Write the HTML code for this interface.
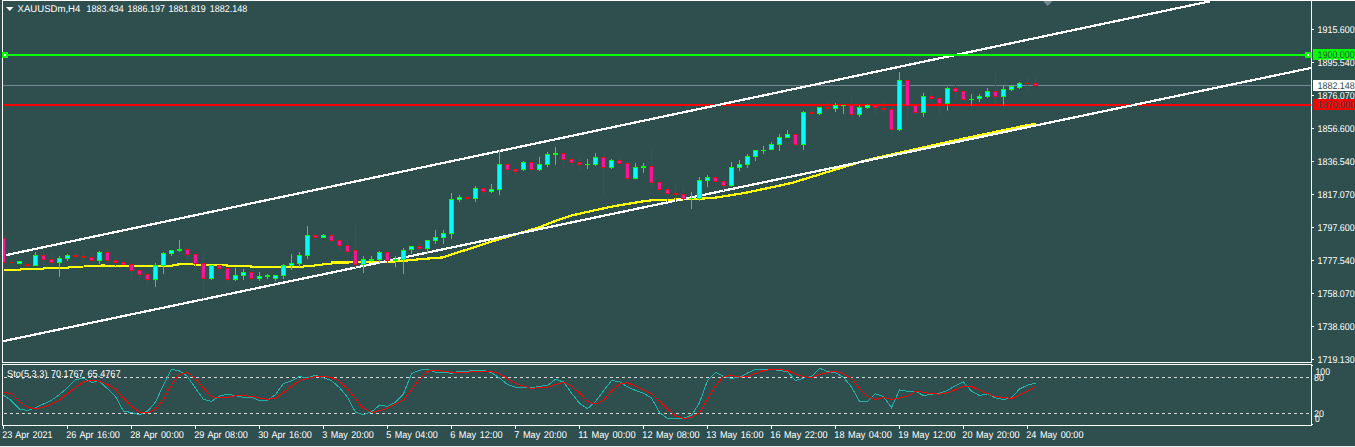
<!DOCTYPE html>
<html lang="en"><head><meta charset="utf-8"><title>XAUUSDm,H4</title>
<style>html,body{margin:0;padding:0;background:#2F4F4F;overflow:hidden}svg{display:block}text{font-family:"Liberation Sans",sans-serif;font-size:9.8px;text-rendering:geometricPrecision;fill:#fff}.d{fill:#2F4F4F}.w{word-spacing:1px}</style></head><body>
<svg width="1355" height="447" viewBox="0 0 1355 447">
<defs><clipPath id="c"><rect x="3" y="1" width="1308" height="361"/></clipPath><clipPath id="s"><rect x="3" y="365" width="1308" height="60"/></clipPath></defs>
<rect width="1355" height="447" fill="#2F4F4F"/>
<rect x="0" y="446" width="1355" height="1" fill="#F0F0EE"/>
<g shape-rendering="crispEdges">
<rect x="2" y="0" width="1353" height="1" fill="#fff"/>
<rect x="2" y="0" width="1" height="363" fill="#fff"/>
<rect x="2" y="362" width="1310" height="1" fill="#fff"/>
<rect x="2" y="364" width="1310" height="1" fill="#fff"/>
<rect x="2" y="364" width="1" height="62" fill="#fff"/>
<rect x="2" y="425" width="1310" height="1" fill="#fff"/>
<rect x="1311" y="0" width="1" height="363" fill="#fff"/>
<rect x="1311" y="364" width="1" height="62" fill="#fff"/>
<rect x="1312" y="29" width="2" height="1" fill="#fff"/>
<rect x="1312" y="62" width="2" height="1" fill="#fff"/>
<rect x="1312" y="95" width="2" height="1" fill="#fff"/>
<rect x="1312" y="128" width="2" height="1" fill="#fff"/>
<rect x="1312" y="161" width="2" height="1" fill="#fff"/>
<rect x="1312" y="194" width="2" height="1" fill="#fff"/>
<rect x="1312" y="227" width="2" height="1" fill="#fff"/>
<rect x="1312" y="260" width="2" height="1" fill="#fff"/>
<rect x="1312" y="293" width="2" height="1" fill="#fff"/>
<rect x="1312" y="326" width="2" height="1" fill="#fff"/>
<rect x="1312" y="359" width="2" height="1" fill="#fff"/>
<rect x="1312" y="365" width="1" height="1" fill="#fff"/><rect x="1312" y="424" width="1" height="1" fill="#fff"/>
<rect x="3" y="426" width="1" height="3" fill="#fff"/>
<rect x="67" y="426" width="1" height="3" fill="#fff"/>
<rect x="131" y="426" width="1" height="3" fill="#fff"/>
<rect x="195" y="426" width="1" height="3" fill="#fff"/>
<rect x="259" y="426" width="1" height="3" fill="#fff"/>
<rect x="323" y="426" width="1" height="3" fill="#fff"/>
<rect x="387" y="426" width="1" height="3" fill="#fff"/>
<rect x="451" y="426" width="1" height="3" fill="#fff"/>
<rect x="515" y="426" width="1" height="3" fill="#fff"/>
<rect x="579" y="426" width="1" height="3" fill="#fff"/>
<rect x="643" y="426" width="1" height="3" fill="#fff"/>
<rect x="707" y="426" width="1" height="3" fill="#fff"/>
<rect x="771" y="426" width="1" height="3" fill="#fff"/>
<rect x="835" y="426" width="1" height="3" fill="#fff"/>
<rect x="899" y="426" width="1" height="3" fill="#fff"/>
<rect x="963" y="426" width="1" height="3" fill="#fff"/>
<rect x="1027" y="426" width="1" height="3" fill="#fff"/>
<g clip-path="url(#c)">
<polyline fill="none" stroke="#FFFF00" stroke-width="2.25" points="3.0,270.0 20.0,270.0 21.0,269.0 43.0,269.0 44.0,268.0 68.0,268.0 69.0,267.0 83.0,267.0 84.0,266.3 100.0,266.3 101.0,265.6 128.0,265.8 170.0,266.0 175.0,265.0 181.0,264.0 194.0,264.0 196.0,265.0 226.0,265.0 228.0,266.0 250.0,266.0 252.0,267.0 303.0,267.0 304.0,266.0 314.0,266.0 315.6,264.7 322.0,264.7 323.0,263.8 331.0,263.8 332.0,262.6 348.0,262.6 349.0,261.8 391.0,261.6 402.0,261.0 420.0,259.2 443.0,257.4 455.6,253.1 468.0,249.3 486.8,243.0 504.3,237.7 520.4,233.0 540.5,226.9 554.0,221.5 571.4,215.5 594.2,210.4 614.4,206.1 640.0,201.8 651.8,200.2 668.0,199.8 696.0,199.0 715.0,197.7 744.0,193.1 771.6,187.3 792.0,182.9 821.0,174.0 848.0,165.8 862.0,161.4 880.0,157.0 900.0,152.6 930.0,146.0 955.0,140.4 1000.0,130.9 1027.0,125.3 1036.0,123.7"/>
<rect x="3" y="85" width="1308" height="1" fill="#778899"/>
<rect x="3" y="104" width="1308" height="2" fill="#FF0000"/>
<line x1="3" y1="341.20" x2="1311" y2="67.96" stroke="#fff" stroke-width="2.25"/>
<line x1="3" y1="255.73" x2="1210" y2="1.30" stroke="#fff" stroke-width="2.25"/>
<rect x="3" y="54" width="1308" height="2" fill="#00FF00"/>
<rect x="1305" y="52" width="6" height="6" fill="#00FF00"/><rect x="1307" y="54" width="2" height="2" fill="#fff"/>
</g>
</g>
<polygon points="1043,1 1052.5,1 1047.7,6" fill="#778899"/>
<rect x="2" y="52" width="6" height="6" fill="#00FF00" shape-rendering="crispEdges"/><rect x="4" y="54" width="2" height="2" fill="#fff" shape-rendering="crispEdges"/>
<g shape-rendering="crispEdges"><g clip-path="url(#c)">
<rect x="3" y="230" width="1" height="45" fill="#FF0000"/>
<rect x="1" y="238" width="5" height="25" fill="#FF0000"/>
<rect x="2" y="239" width="3" height="23" fill="#FF1493"/>
<rect x="11" y="258" width="1" height="7" fill="#FF0000"/>
<rect x="9" y="262" width="5" height="1" fill="#FF0000"/>
<rect x="19" y="261" width="1" height="3" fill="#00FF00"/>
<rect x="17" y="261" width="5" height="3" fill="#00FF00"/>
<rect x="18" y="262" width="3" height="1" fill="#00FFFF"/>
<rect x="27" y="263" width="1" height="5" fill="#FF0000"/>
<rect x="25" y="264" width="5" height="2" fill="#FF0000"/>
<rect x="35" y="252" width="1" height="14" fill="#00FF00"/>
<rect x="33" y="255" width="5" height="11" fill="#00FF00"/>
<rect x="34" y="256" width="3" height="9" fill="#00FFFF"/>
<rect x="43" y="251" width="1" height="15" fill="#FF0000"/>
<rect x="41" y="255" width="5" height="5" fill="#FF0000"/>
<rect x="42" y="256" width="3" height="3" fill="#FF1493"/>
<rect x="51" y="253" width="1" height="13" fill="#FF0000"/>
<rect x="49" y="259" width="5" height="4" fill="#FF0000"/>
<rect x="50" y="260" width="3" height="2" fill="#FF1493"/>
<rect x="59" y="256" width="1" height="21" fill="#00FF00"/>
<rect x="57" y="258" width="5" height="5" fill="#00FF00"/>
<rect x="58" y="259" width="3" height="3" fill="#00FFFF"/>
<rect x="67" y="254" width="1" height="7" fill="#00FF00"/>
<rect x="65" y="255" width="5" height="4" fill="#00FF00"/>
<rect x="66" y="256" width="3" height="2" fill="#00FFFF"/>
<rect x="75" y="252" width="1" height="5" fill="#FF0000"/>
<rect x="73" y="255" width="5" height="2" fill="#FF0000"/>
<rect x="83" y="250" width="1" height="18" fill="#FF0000"/>
<rect x="81" y="256" width="5" height="2" fill="#FF0000"/>
<rect x="91" y="251" width="1" height="10" fill="#FF0000"/>
<rect x="89" y="257" width="5" height="4" fill="#FF0000"/>
<rect x="90" y="258" width="3" height="2" fill="#FF1493"/>
<rect x="99" y="251" width="1" height="13" fill="#00FF00"/>
<rect x="97" y="252" width="5" height="9" fill="#00FF00"/>
<rect x="98" y="253" width="3" height="7" fill="#00FFFF"/>
<rect x="107" y="247" width="1" height="14" fill="#FF0000"/>
<rect x="105" y="252" width="5" height="9" fill="#FF0000"/>
<rect x="106" y="253" width="3" height="7" fill="#FF1493"/>
<rect x="115" y="257" width="1" height="9" fill="#FF0000"/>
<rect x="113" y="260" width="5" height="3" fill="#FF0000"/>
<rect x="114" y="261" width="3" height="1" fill="#FF1493"/>
<rect x="123" y="260" width="1" height="5" fill="#FF0000"/>
<rect x="121" y="262" width="5" height="3" fill="#FF0000"/>
<rect x="122" y="263" width="3" height="1" fill="#FF1493"/>
<rect x="131" y="264" width="1" height="16" fill="#FF0000"/>
<rect x="129" y="264" width="5" height="7" fill="#FF0000"/>
<rect x="130" y="265" width="3" height="5" fill="#FF1493"/>
<rect x="139" y="270" width="1" height="11" fill="#FF0000"/>
<rect x="137" y="270" width="5" height="5" fill="#FF0000"/>
<rect x="138" y="271" width="3" height="3" fill="#FF1493"/>
<rect x="147" y="272" width="1" height="14" fill="#FF0000"/>
<rect x="145" y="274" width="5" height="6" fill="#FF0000"/>
<rect x="146" y="275" width="3" height="4" fill="#FF1493"/>
<rect x="155" y="263" width="1" height="24" fill="#00FF00"/>
<rect x="153" y="265" width="5" height="15" fill="#00FF00"/>
<rect x="154" y="266" width="3" height="13" fill="#00FFFF"/>
<rect x="163" y="252" width="1" height="22" fill="#00FF00"/>
<rect x="161" y="253" width="5" height="13" fill="#00FF00"/>
<rect x="162" y="254" width="3" height="11" fill="#00FFFF"/>
<rect x="171" y="250" width="1" height="6" fill="#00FF00"/>
<rect x="169" y="250" width="5" height="4" fill="#00FF00"/>
<rect x="170" y="251" width="3" height="2" fill="#00FFFF"/>
<rect x="179" y="240" width="1" height="12" fill="#00FF00"/>
<rect x="177" y="249" width="5" height="2" fill="#00FF00"/>
<rect x="187" y="247" width="1" height="15" fill="#FF0000"/>
<rect x="185" y="249" width="5" height="6" fill="#FF0000"/>
<rect x="186" y="250" width="3" height="4" fill="#FF1493"/>
<rect x="195" y="254" width="1" height="17" fill="#FF0000"/>
<rect x="193" y="254" width="5" height="10" fill="#FF0000"/>
<rect x="194" y="255" width="3" height="8" fill="#FF1493"/>
<rect x="203" y="254" width="1" height="45" fill="#FF0000"/>
<rect x="201" y="263" width="5" height="16" fill="#FF0000"/>
<rect x="202" y="264" width="3" height="14" fill="#FF1493"/>
<rect x="211" y="265" width="1" height="15" fill="#00FF00"/>
<rect x="209" y="265" width="5" height="14" fill="#00FF00"/>
<rect x="210" y="266" width="3" height="12" fill="#00FFFF"/>
<rect x="219" y="265" width="1" height="8" fill="#FF0000"/>
<rect x="217" y="265" width="5" height="4" fill="#FF0000"/>
<rect x="218" y="266" width="3" height="2" fill="#FF1493"/>
<rect x="227" y="268" width="1" height="14" fill="#FF0000"/>
<rect x="225" y="268" width="5" height="12" fill="#FF0000"/>
<rect x="226" y="269" width="3" height="10" fill="#FF1493"/>
<rect x="235" y="268" width="1" height="13" fill="#00FF00"/>
<rect x="233" y="275" width="5" height="5" fill="#00FF00"/>
<rect x="234" y="276" width="3" height="3" fill="#00FFFF"/>
<rect x="243" y="269" width="1" height="11" fill="#00FF00"/>
<rect x="241" y="272" width="5" height="4" fill="#00FF00"/>
<rect x="242" y="273" width="3" height="2" fill="#00FFFF"/>
<rect x="251" y="269" width="1" height="15" fill="#FF0000"/>
<rect x="249" y="272" width="5" height="7" fill="#FF0000"/>
<rect x="250" y="273" width="3" height="5" fill="#FF1493"/>
<rect x="259" y="272" width="1" height="9" fill="#00FF00"/>
<rect x="257" y="276" width="5" height="3" fill="#00FF00"/>
<rect x="258" y="277" width="3" height="1" fill="#00FFFF"/>
<rect x="267" y="274" width="1" height="5" fill="#00FF00"/>
<rect x="265" y="275" width="5" height="2" fill="#00FF00"/>
<rect x="275" y="275" width="1" height="6" fill="#00FF00"/>
<rect x="273" y="275" width="5" height="4" fill="#00FF00"/>
<rect x="274" y="276" width="3" height="2" fill="#00FFFF"/>
<rect x="283" y="264" width="1" height="15" fill="#00FF00"/>
<rect x="281" y="265" width="5" height="11" fill="#00FF00"/>
<rect x="282" y="266" width="3" height="9" fill="#00FFFF"/>
<rect x="291" y="254" width="1" height="16" fill="#00FF00"/>
<rect x="289" y="263" width="5" height="3" fill="#00FF00"/>
<rect x="290" y="264" width="3" height="1" fill="#00FFFF"/>
<rect x="299" y="252" width="1" height="15" fill="#00FF00"/>
<rect x="297" y="255" width="5" height="9" fill="#00FF00"/>
<rect x="298" y="256" width="3" height="7" fill="#00FFFF"/>
<rect x="307" y="226" width="1" height="33" fill="#00FF00"/>
<rect x="305" y="235" width="5" height="21" fill="#00FF00"/>
<rect x="306" y="236" width="3" height="19" fill="#00FFFF"/>
<rect x="315" y="232" width="1" height="8" fill="#FF0000"/>
<rect x="313" y="235" width="5" height="3" fill="#FF0000"/>
<rect x="314" y="236" width="3" height="1" fill="#FF1493"/>
<rect x="323" y="234" width="1" height="4" fill="#00FF00"/>
<rect x="321" y="235" width="5" height="3" fill="#00FF00"/>
<rect x="322" y="236" width="3" height="1" fill="#00FFFF"/>
<rect x="331" y="234" width="1" height="9" fill="#FF0000"/>
<rect x="329" y="235" width="5" height="6" fill="#FF0000"/>
<rect x="330" y="236" width="3" height="4" fill="#FF1493"/>
<rect x="339" y="240" width="1" height="11" fill="#FF0000"/>
<rect x="337" y="240" width="5" height="6" fill="#FF0000"/>
<rect x="338" y="241" width="3" height="4" fill="#FF1493"/>
<rect x="347" y="239" width="1" height="17" fill="#FF0000"/>
<rect x="345" y="245" width="5" height="7" fill="#FF0000"/>
<rect x="346" y="246" width="3" height="5" fill="#FF1493"/>
<rect x="355" y="225" width="1" height="43" fill="#FF0000"/>
<rect x="353" y="250" width="5" height="15" fill="#FF0000"/>
<rect x="354" y="251" width="3" height="13" fill="#FF1493"/>
<rect x="363" y="256" width="1" height="17" fill="#00FF00"/>
<rect x="361" y="259" width="5" height="6" fill="#00FF00"/>
<rect x="362" y="260" width="3" height="4" fill="#00FFFF"/>
<rect x="371" y="256" width="1" height="6" fill="#00FF00"/>
<rect x="369" y="259" width="5" height="2" fill="#00FF00"/>
<rect x="379" y="251" width="1" height="12" fill="#00FF00"/>
<rect x="377" y="252" width="5" height="8" fill="#00FF00"/>
<rect x="378" y="253" width="3" height="6" fill="#00FFFF"/>
<rect x="387" y="251" width="1" height="14" fill="#FF0000"/>
<rect x="385" y="252" width="5" height="9" fill="#FF0000"/>
<rect x="386" y="253" width="3" height="7" fill="#FF1493"/>
<rect x="395" y="256" width="1" height="11" fill="#00FF00"/>
<rect x="393" y="259" width="5" height="2" fill="#00FF00"/>
<rect x="403" y="248" width="1" height="26" fill="#00FF00"/>
<rect x="401" y="250" width="5" height="10" fill="#00FF00"/>
<rect x="402" y="251" width="3" height="8" fill="#00FFFF"/>
<rect x="411" y="246" width="1" height="8" fill="#00FF00"/>
<rect x="409" y="246" width="5" height="4" fill="#00FF00"/>
<rect x="410" y="247" width="3" height="2" fill="#00FFFF"/>
<rect x="419" y="243" width="1" height="7" fill="#FF0000"/>
<rect x="417" y="246" width="5" height="3" fill="#FF0000"/>
<rect x="418" y="247" width="3" height="1" fill="#FF1493"/>
<rect x="427" y="240" width="1" height="14" fill="#00FF00"/>
<rect x="425" y="240" width="5" height="9" fill="#00FF00"/>
<rect x="426" y="241" width="3" height="7" fill="#00FFFF"/>
<rect x="435" y="230" width="1" height="14" fill="#00FF00"/>
<rect x="433" y="237" width="5" height="4" fill="#00FF00"/>
<rect x="434" y="238" width="3" height="2" fill="#00FFFF"/>
<rect x="443" y="230" width="1" height="14" fill="#00FF00"/>
<rect x="441" y="233" width="5" height="5" fill="#00FF00"/>
<rect x="442" y="234" width="3" height="3" fill="#00FFFF"/>
<rect x="451" y="193" width="1" height="46" fill="#00FF00"/>
<rect x="449" y="199" width="5" height="35" fill="#00FF00"/>
<rect x="450" y="200" width="3" height="33" fill="#00FFFF"/>
<rect x="459" y="195" width="1" height="7" fill="#00FF00"/>
<rect x="457" y="197" width="5" height="3" fill="#00FF00"/>
<rect x="458" y="198" width="3" height="1" fill="#00FFFF"/>
<rect x="467" y="196" width="1" height="5" fill="#FF0000"/>
<rect x="465" y="197" width="5" height="2" fill="#FF0000"/>
<rect x="475" y="186" width="1" height="16" fill="#00FF00"/>
<rect x="473" y="188" width="5" height="11" fill="#00FF00"/>
<rect x="474" y="189" width="3" height="9" fill="#00FFFF"/>
<rect x="483" y="187" width="1" height="8" fill="#FF0000"/>
<rect x="481" y="188" width="5" height="4" fill="#FF0000"/>
<rect x="482" y="189" width="3" height="2" fill="#FF1493"/>
<rect x="491" y="184" width="1" height="9" fill="#00FF00"/>
<rect x="489" y="189" width="5" height="3" fill="#00FF00"/>
<rect x="490" y="190" width="3" height="1" fill="#00FFFF"/>
<rect x="499" y="150" width="1" height="45" fill="#00FF00"/>
<rect x="497" y="164" width="5" height="26" fill="#00FF00"/>
<rect x="498" y="165" width="3" height="24" fill="#00FFFF"/>
<rect x="507" y="164" width="1" height="12" fill="#FF0000"/>
<rect x="505" y="164" width="5" height="6" fill="#FF0000"/>
<rect x="506" y="165" width="3" height="4" fill="#FF1493"/>
<rect x="515" y="169" width="1" height="5" fill="#FF0000"/>
<rect x="513" y="169" width="5" height="3" fill="#FF0000"/>
<rect x="514" y="170" width="3" height="1" fill="#FF1493"/>
<rect x="523" y="161" width="1" height="10" fill="#00FF00"/>
<rect x="521" y="162" width="5" height="8" fill="#00FF00"/>
<rect x="522" y="163" width="3" height="6" fill="#00FFFF"/>
<rect x="531" y="162" width="1" height="11" fill="#FF0000"/>
<rect x="529" y="162" width="5" height="8" fill="#FF0000"/>
<rect x="530" y="163" width="3" height="6" fill="#FF1493"/>
<rect x="539" y="157" width="1" height="14" fill="#00FF00"/>
<rect x="537" y="164" width="5" height="6" fill="#00FF00"/>
<rect x="538" y="165" width="3" height="4" fill="#00FFFF"/>
<rect x="547" y="152" width="1" height="15" fill="#00FF00"/>
<rect x="545" y="154" width="5" height="11" fill="#00FF00"/>
<rect x="546" y="155" width="3" height="9" fill="#00FFFF"/>
<rect x="555" y="147" width="1" height="18" fill="#00FF00"/>
<rect x="553" y="153" width="5" height="2" fill="#00FF00"/>
<rect x="563" y="153" width="1" height="15" fill="#FF0000"/>
<rect x="561" y="153" width="5" height="7" fill="#FF0000"/>
<rect x="562" y="154" width="3" height="5" fill="#FF1493"/>
<rect x="571" y="158" width="1" height="8" fill="#FF0000"/>
<rect x="569" y="159" width="5" height="4" fill="#FF0000"/>
<rect x="570" y="160" width="3" height="2" fill="#FF1493"/>
<rect x="579" y="158" width="1" height="13" fill="#FF0000"/>
<rect x="577" y="162" width="5" height="3" fill="#FF0000"/>
<rect x="578" y="163" width="3" height="1" fill="#FF1493"/>
<rect x="587" y="159" width="1" height="10" fill="#00FF00"/>
<rect x="585" y="164" width="5" height="1" fill="#00FF00"/>
<rect x="595" y="153" width="1" height="13" fill="#00FF00"/>
<rect x="593" y="157" width="5" height="8" fill="#00FF00"/>
<rect x="594" y="158" width="3" height="6" fill="#00FFFF"/>
<rect x="603" y="153" width="1" height="41" fill="#FF0000"/>
<rect x="601" y="157" width="5" height="11" fill="#FF0000"/>
<rect x="602" y="158" width="3" height="9" fill="#FF1493"/>
<rect x="611" y="159" width="1" height="10" fill="#00FF00"/>
<rect x="609" y="160" width="5" height="8" fill="#00FF00"/>
<rect x="610" y="161" width="3" height="6" fill="#00FFFF"/>
<rect x="619" y="158" width="1" height="6" fill="#FF0000"/>
<rect x="617" y="160" width="5" height="4" fill="#FF0000"/>
<rect x="618" y="161" width="3" height="2" fill="#FF1493"/>
<rect x="627" y="161" width="1" height="19" fill="#FF0000"/>
<rect x="625" y="163" width="5" height="16" fill="#FF0000"/>
<rect x="626" y="164" width="3" height="14" fill="#FF1493"/>
<rect x="635" y="163" width="1" height="16" fill="#00FF00"/>
<rect x="633" y="167" width="5" height="12" fill="#00FF00"/>
<rect x="634" y="168" width="3" height="10" fill="#00FFFF"/>
<rect x="643" y="163" width="1" height="10" fill="#00FF00"/>
<rect x="641" y="166" width="5" height="2" fill="#00FF00"/>
<rect x="651" y="150" width="1" height="39" fill="#FF0000"/>
<rect x="649" y="166" width="5" height="17" fill="#FF0000"/>
<rect x="650" y="167" width="3" height="15" fill="#FF1493"/>
<rect x="659" y="181" width="1" height="11" fill="#FF0000"/>
<rect x="657" y="182" width="5" height="8" fill="#FF0000"/>
<rect x="658" y="183" width="3" height="6" fill="#FF1493"/>
<rect x="667" y="188" width="1" height="14" fill="#FF0000"/>
<rect x="665" y="189" width="5" height="5" fill="#FF0000"/>
<rect x="666" y="190" width="3" height="3" fill="#FF1493"/>
<rect x="675" y="184" width="1" height="18" fill="#FF0000"/>
<rect x="673" y="193" width="5" height="2" fill="#FF0000"/>
<rect x="683" y="186" width="1" height="15" fill="#FF0000"/>
<rect x="681" y="194" width="5" height="5" fill="#FF0000"/>
<rect x="682" y="195" width="3" height="3" fill="#FF1493"/>
<rect x="691" y="192" width="1" height="17" fill="#00FF00"/>
<rect x="689" y="198" width="5" height="1" fill="#00FF00"/>
<rect x="699" y="177" width="1" height="24" fill="#00FF00"/>
<rect x="697" y="180" width="5" height="19" fill="#00FF00"/>
<rect x="698" y="181" width="3" height="17" fill="#00FFFF"/>
<rect x="707" y="175" width="1" height="12" fill="#00FF00"/>
<rect x="705" y="177" width="5" height="4" fill="#00FF00"/>
<rect x="706" y="178" width="3" height="2" fill="#00FFFF"/>
<rect x="715" y="175" width="1" height="7" fill="#FF0000"/>
<rect x="713" y="177" width="5" height="5" fill="#FF0000"/>
<rect x="714" y="178" width="3" height="3" fill="#FF1493"/>
<rect x="723" y="178" width="1" height="13" fill="#FF0000"/>
<rect x="721" y="181" width="5" height="5" fill="#FF0000"/>
<rect x="722" y="182" width="3" height="3" fill="#FF1493"/>
<rect x="731" y="162" width="1" height="25" fill="#00FF00"/>
<rect x="729" y="167" width="5" height="19" fill="#00FF00"/>
<rect x="730" y="168" width="3" height="17" fill="#00FFFF"/>
<rect x="739" y="160" width="1" height="11" fill="#00FF00"/>
<rect x="737" y="164" width="5" height="4" fill="#00FF00"/>
<rect x="738" y="165" width="3" height="2" fill="#00FFFF"/>
<rect x="747" y="154" width="1" height="14" fill="#00FF00"/>
<rect x="745" y="156" width="5" height="9" fill="#00FF00"/>
<rect x="746" y="157" width="3" height="7" fill="#00FFFF"/>
<rect x="755" y="150" width="1" height="11" fill="#00FF00"/>
<rect x="753" y="150" width="5" height="7" fill="#00FF00"/>
<rect x="754" y="151" width="3" height="5" fill="#00FFFF"/>
<rect x="763" y="146" width="1" height="8" fill="#00FF00"/>
<rect x="761" y="150" width="5" height="1" fill="#00FF00"/>
<rect x="771" y="142" width="1" height="8" fill="#00FF00"/>
<rect x="769" y="144" width="5" height="6" fill="#00FF00"/>
<rect x="770" y="145" width="3" height="4" fill="#00FFFF"/>
<rect x="779" y="134" width="1" height="17" fill="#00FF00"/>
<rect x="777" y="137" width="5" height="8" fill="#00FF00"/>
<rect x="778" y="138" width="3" height="6" fill="#00FFFF"/>
<rect x="787" y="130" width="1" height="8" fill="#00FF00"/>
<rect x="785" y="134" width="5" height="4" fill="#00FF00"/>
<rect x="786" y="135" width="3" height="2" fill="#00FFFF"/>
<rect x="795" y="133" width="1" height="13" fill="#FF0000"/>
<rect x="793" y="134" width="5" height="11" fill="#FF0000"/>
<rect x="794" y="135" width="3" height="9" fill="#FF1493"/>
<rect x="803" y="111" width="1" height="39" fill="#00FF00"/>
<rect x="801" y="112" width="5" height="33" fill="#00FF00"/>
<rect x="802" y="113" width="3" height="31" fill="#00FFFF"/>
<rect x="811" y="108" width="1" height="7" fill="#FF0000"/>
<rect x="809" y="112" width="5" height="2" fill="#FF0000"/>
<rect x="819" y="107" width="1" height="8" fill="#00FF00"/>
<rect x="817" y="107" width="5" height="7" fill="#00FF00"/>
<rect x="818" y="108" width="3" height="5" fill="#00FFFF"/>
<rect x="827" y="99" width="1" height="12" fill="#FF0000"/>
<rect x="825" y="107" width="5" height="2" fill="#FF0000"/>
<rect x="835" y="103" width="1" height="9" fill="#00FF00"/>
<rect x="833" y="105" width="5" height="4" fill="#00FF00"/>
<rect x="834" y="106" width="3" height="2" fill="#00FFFF"/>
<rect x="843" y="105" width="1" height="9" fill="#00FF00"/>
<rect x="841" y="105" width="5" height="1" fill="#00FF00"/>
<rect x="851" y="97" width="1" height="21" fill="#FF0000"/>
<rect x="849" y="105" width="5" height="10" fill="#FF0000"/>
<rect x="850" y="106" width="3" height="8" fill="#FF1493"/>
<rect x="859" y="105" width="1" height="12" fill="#00FF00"/>
<rect x="857" y="107" width="5" height="8" fill="#00FF00"/>
<rect x="858" y="108" width="3" height="6" fill="#00FFFF"/>
<rect x="867" y="104" width="1" height="5" fill="#00FF00"/>
<rect x="865" y="105" width="5" height="3" fill="#00FF00"/>
<rect x="866" y="106" width="3" height="1" fill="#00FFFF"/>
<rect x="875" y="103" width="1" height="13" fill="#FF0000"/>
<rect x="873" y="105" width="5" height="3" fill="#FF0000"/>
<rect x="874" y="106" width="3" height="1" fill="#FF1493"/>
<rect x="883" y="99" width="1" height="14" fill="#FF0000"/>
<rect x="881" y="108" width="5" height="2" fill="#FF0000"/>
<rect x="891" y="106" width="1" height="30" fill="#FF0000"/>
<rect x="889" y="109" width="5" height="21" fill="#FF0000"/>
<rect x="890" y="110" width="3" height="19" fill="#FF1493"/>
<rect x="899" y="72" width="1" height="59" fill="#00FF00"/>
<rect x="897" y="80" width="5" height="50" fill="#00FF00"/>
<rect x="898" y="81" width="3" height="48" fill="#00FFFF"/>
<rect x="907" y="80" width="1" height="40" fill="#FF0000"/>
<rect x="905" y="80" width="5" height="26" fill="#FF0000"/>
<rect x="906" y="81" width="3" height="24" fill="#FF1493"/>
<rect x="915" y="103" width="1" height="12" fill="#FF0000"/>
<rect x="913" y="105" width="5" height="8" fill="#FF0000"/>
<rect x="914" y="106" width="3" height="6" fill="#FF1493"/>
<rect x="923" y="93" width="1" height="24" fill="#00FF00"/>
<rect x="921" y="96" width="5" height="17" fill="#00FF00"/>
<rect x="922" y="97" width="3" height="15" fill="#00FFFF"/>
<rect x="931" y="90" width="1" height="15" fill="#FF0000"/>
<rect x="929" y="96" width="5" height="3" fill="#FF0000"/>
<rect x="930" y="97" width="3" height="1" fill="#FF1493"/>
<rect x="939" y="95" width="1" height="19" fill="#FF0000"/>
<rect x="937" y="98" width="5" height="6" fill="#FF0000"/>
<rect x="938" y="99" width="3" height="4" fill="#FF1493"/>
<rect x="947" y="87" width="1" height="24" fill="#00FF00"/>
<rect x="945" y="88" width="5" height="16" fill="#00FF00"/>
<rect x="946" y="89" width="3" height="14" fill="#00FFFF"/>
<rect x="955" y="82" width="1" height="19" fill="#FF0000"/>
<rect x="953" y="88" width="5" height="4" fill="#FF0000"/>
<rect x="954" y="89" width="3" height="2" fill="#FF1493"/>
<rect x="963" y="91" width="1" height="9" fill="#FF0000"/>
<rect x="961" y="91" width="5" height="9" fill="#FF0000"/>
<rect x="962" y="92" width="3" height="7" fill="#FF1493"/>
<rect x="971" y="94" width="1" height="12" fill="#00FF00"/>
<rect x="969" y="99" width="5" height="1" fill="#00FF00"/>
<rect x="979" y="94" width="1" height="8" fill="#00FF00"/>
<rect x="977" y="96" width="5" height="3" fill="#00FF00"/>
<rect x="978" y="97" width="3" height="1" fill="#00FFFF"/>
<rect x="987" y="88" width="1" height="10" fill="#00FF00"/>
<rect x="985" y="91" width="5" height="6" fill="#00FF00"/>
<rect x="986" y="92" width="3" height="4" fill="#00FFFF"/>
<rect x="995" y="73" width="1" height="32" fill="#FF0000"/>
<rect x="993" y="91" width="5" height="6" fill="#FF0000"/>
<rect x="994" y="92" width="3" height="4" fill="#FF1493"/>
<rect x="1003" y="86" width="1" height="20" fill="#00FF00"/>
<rect x="1001" y="89" width="5" height="8" fill="#00FF00"/>
<rect x="1002" y="90" width="3" height="6" fill="#00FFFF"/>
<rect x="1011" y="85" width="1" height="6" fill="#00FF00"/>
<rect x="1009" y="86" width="5" height="4" fill="#00FF00"/>
<rect x="1010" y="87" width="3" height="2" fill="#00FFFF"/>
<rect x="1019" y="82" width="1" height="7" fill="#00FF00"/>
<rect x="1017" y="83" width="5" height="5" fill="#00FF00"/>
<rect x="1018" y="84" width="3" height="3" fill="#00FFFF"/>
<rect x="1027" y="77" width="1" height="13" fill="#FF0000"/>
<rect x="1025" y="83" width="5" height="1" fill="#FF0000"/>
<rect x="1035" y="78" width="1" height="8" fill="#FF0000"/>
<rect x="1033" y="83" width="5" height="3" fill="#FF0000"/>
<rect x="1034" y="84" width="3" height="1" fill="#FF1493"/>
</g>
<rect x="1313" y="49" width="42" height="11" fill="#00FF00"/>
<rect x="1313" y="80" width="42" height="11" fill="#fff"/>
<rect x="1313" y="99" width="42" height="11" fill="#FF0000"/>
<g clip-path="url(#s)">
<line x1="4" y1="377.5" x2="1311" y2="377.5" stroke="#D8D8D8" stroke-width="1" stroke-dasharray="3,3"/>
<line x1="4" y1="413.5" x2="1311" y2="413.5" stroke="#D8D8D8" stroke-width="1" stroke-dasharray="3,3"/>
<polyline fill="none" stroke="#20B2AA" stroke-width="1" points="3.5,395.2 11.5,400.8 19.5,409.1 27.5,410.5 35.5,407.7 43.5,404.0 51.5,400.3 59.5,394.5 67.5,387.6 75.5,379.5 83.5,378.3 91.5,382.3 99.5,381.3 107.5,388.7 115.5,396.6 123.5,411.2 131.5,412.5 139.5,414.6 147.5,411.2 155.5,402.1 163.5,384.8 171.5,369.3 179.5,370.9 187.5,376.5 195.5,388.3 203.5,399.4 211.5,401.4 219.5,396.2 227.5,394.2 235.5,395.6 243.5,397.3 251.5,397.3 259.5,400.5 267.5,400.5 275.5,394.5 283.5,383.4 291.5,380.9 299.5,376.5 307.5,377.9 315.5,375.4 323.5,377.7 331.5,380.6 339.5,387.6 347.5,397.3 355.5,412.3 363.5,414.6 371.5,411.9 379.5,405.2 387.5,406.3 395.5,402.1 403.5,393.8 411.5,373.7 419.5,370.2 427.5,369.3 435.5,372.3 443.5,372.3 451.5,373.4 459.5,371.2 467.5,371.2 475.5,370.2 483.5,370.2 491.5,372.6 499.5,377.9 507.5,384.5 515.5,387.3 523.5,387.3 531.5,387.9 539.5,386.2 547.5,385.5 555.5,379.3 563.5,382.0 571.5,393.1 579.5,403.3 587.5,408.7 595.5,401.4 603.5,391.0 611.5,380.4 619.5,381.8 627.5,386.9 635.5,390.4 643.5,393.2 651.5,398.0 659.5,412.5 667.5,418.4 675.5,418.4 683.5,418.1 691.5,415.3 699.5,402.8 707.5,380.4 715.5,372.3 723.5,376.5 731.5,378.3 739.5,377.5 747.5,373.0 755.5,369.5 763.5,369.3 771.5,369.5 779.5,370.5 787.5,371.6 795.5,380.6 803.5,378.1 811.5,376.5 819.5,368.2 827.5,371.6 835.5,372.6 843.5,377.5 851.5,386.9 859.5,401.4 867.5,401.4 875.5,393.8 883.5,396.6 891.5,407.7 899.5,389.9 907.5,391.3 915.5,391.3 923.5,395.6 931.5,394.2 939.5,393.1 947.5,390.4 955.5,385.5 963.5,382.0 971.5,391.0 979.5,395.6 987.5,393.8 995.5,398.0 1003.5,399.4 1011.5,398.0 1019.5,389.0 1027.5,385.1 1035.5,383.1"/>
<polyline fill="none" stroke="#FF0000" stroke-width="1" points="3.5,392.4 11.5,393.4 19.5,401.6 27.5,407.3 35.5,409.0 43.5,407.3 51.5,404.2 59.5,399.8 67.5,393.8 75.5,387.6 83.5,381.8 91.5,380.4 99.5,381.3 107.5,384.5 115.5,389.0 123.5,398.0 131.5,406.3 139.5,412.3 147.5,412.5 155.5,409.1 163.5,399.5 171.5,384.8 179.5,374.4 187.5,372.6 195.5,378.6 203.5,387.9 211.5,396.6 219.5,398.0 227.5,397.3 235.5,395.6 243.5,395.6 251.5,396.3 259.5,398.0 267.5,399.4 275.5,398.0 283.5,392.8 291.5,386.2 299.5,380.4 307.5,378.3 315.5,376.5 323.5,376.5 331.5,377.5 339.5,381.3 347.5,388.7 355.5,398.7 363.5,408.4 371.5,412.3 379.5,410.5 387.5,408.4 395.5,404.2 403.5,400.3 411.5,389.7 419.5,379.3 427.5,371.2 435.5,370.2 443.5,371.2 451.5,372.3 459.5,372.3 467.5,372.3 475.5,371.2 483.5,371.2 491.5,371.6 499.5,373.7 507.5,378.6 515.5,383.4 523.5,386.2 531.5,388.3 539.5,387.6 547.5,387.3 555.5,384.5 563.5,382.4 571.5,385.5 579.5,393.1 587.5,401.4 595.5,404.2 603.5,400.3 611.5,391.0 619.5,384.1 627.5,382.7 635.5,386.2 643.5,390.0 651.5,393.8 659.5,401.2 667.5,409.1 675.5,416.0 683.5,418.4 691.5,417.4 699.5,412.5 707.5,399.4 715.5,385.5 723.5,376.5 731.5,375.5 739.5,377.2 747.5,376.5 755.5,373.4 763.5,370.7 771.5,369.5 779.5,369.5 787.5,370.5 795.5,374.4 803.5,376.8 811.5,377.9 819.5,374.4 827.5,372.3 835.5,371.2 843.5,373.7 851.5,378.3 859.5,388.3 867.5,396.6 875.5,399.4 883.5,397.3 891.5,399.4 899.5,398.0 907.5,396.2 915.5,391.3 923.5,392.4 931.5,393.5 939.5,394.2 947.5,392.4 955.5,389.7 963.5,386.2 971.5,386.5 979.5,390.4 987.5,393.5 995.5,396.6 1003.5,397.6 1011.5,398.4 1019.5,395.2 1027.5,391.0 1035.5,387.3"/>
</g>
</g>
<polygon points="6,7 13.5,7 9.75,11" fill="#fff"/>
<text x="17.6" y="12" textLength="62.7" lengthAdjust="spacingAndGlyphs">XAUUSDm,H4</text>
<text x="86.6" y="12" textLength="37.2" lengthAdjust="spacingAndGlyphs">1883.434</text>
<text x="127.5" y="12" textLength="37.4" lengthAdjust="spacingAndGlyphs">1886.197</text>
<text x="168.6" y="12" textLength="37.2" lengthAdjust="spacingAndGlyphs">1881.819</text>
<text x="209.8" y="12" textLength="37.4" lengthAdjust="spacingAndGlyphs">1882.148</text>
<text x="7.0" y="377" textLength="40.5" lengthAdjust="spacingAndGlyphs">Sto(5,3,3)</text>
<text x="51.0" y="377" textLength="32.5" lengthAdjust="spacingAndGlyphs">70.1767</text>
<text x="87.5" y="377" textLength="33.0" lengthAdjust="spacingAndGlyphs">65.4767</text>
<text x="1317.5" y="33" textLength="37.3" lengthAdjust="spacingAndGlyphs">1915.600</text>
<text x="1317.5" y="66" textLength="37.3" lengthAdjust="spacingAndGlyphs">1895.540</text>
<text x="1317.5" y="99" textLength="37.3" lengthAdjust="spacingAndGlyphs">1876.070</text>
<text x="1317.5" y="132" textLength="37.3" lengthAdjust="spacingAndGlyphs">1856.600</text>
<text x="1317.5" y="165" textLength="37.3" lengthAdjust="spacingAndGlyphs">1836.540</text>
<text x="1317.5" y="198" textLength="37.3" lengthAdjust="spacingAndGlyphs">1817.070</text>
<text x="1317.5" y="231" textLength="37.3" lengthAdjust="spacingAndGlyphs">1797.600</text>
<text x="1317.5" y="264" textLength="37.3" lengthAdjust="spacingAndGlyphs">1777.540</text>
<text x="1317.5" y="297" textLength="37.3" lengthAdjust="spacingAndGlyphs">1758.070</text>
<text x="1317.5" y="330" textLength="37.3" lengthAdjust="spacingAndGlyphs">1738.600</text>
<text x="1317.5" y="363" textLength="37.3" lengthAdjust="spacingAndGlyphs">1719.130</text>
<text x="1317.5" y="58" textLength="37.3" lengthAdjust="spacingAndGlyphs" class="d">1900.000</text>
<text x="1317.5" y="89" textLength="37.3" lengthAdjust="spacingAndGlyphs" class="d">1882.148</text>
<text x="1317.5" y="108" textLength="37.3" lengthAdjust="spacingAndGlyphs" class="d">1870.000</text>
<text x="1315.5" y="375" textLength="14.5" lengthAdjust="spacingAndGlyphs">100</text>
<text x="1314.0" y="381" textLength="9.8" lengthAdjust="spacingAndGlyphs">80</text>
<text x="1314.0" y="417" textLength="9.8" lengthAdjust="spacingAndGlyphs">20</text>
<text x="1315.0" y="422" textLength="4.8" lengthAdjust="spacingAndGlyphs">0</text>
<text x="2.3" y="438" textLength="50.3" lengthAdjust="spacingAndGlyphs" class="w">23 Apr 2021</text>
<text x="66.3" y="438" textLength="53.5" lengthAdjust="spacingAndGlyphs" class="w">26 Apr 16:00</text>
<text x="130.3" y="438" textLength="53.5" lengthAdjust="spacingAndGlyphs" class="w">28 Apr 00:00</text>
<text x="194.3" y="438" textLength="53.5" lengthAdjust="spacingAndGlyphs" class="w">29 Apr 08:00</text>
<text x="258.3" y="438" textLength="53.5" lengthAdjust="spacingAndGlyphs" class="w">30 Apr 16:00</text>
<text x="322.3" y="438" textLength="51.5" lengthAdjust="spacingAndGlyphs" class="w">3 May 20:00</text>
<text x="386.3" y="438" textLength="51.5" lengthAdjust="spacingAndGlyphs" class="w">5 May 04:00</text>
<text x="450.3" y="438" textLength="52.3" lengthAdjust="spacingAndGlyphs" class="w">6 May 12:00</text>
<text x="514.3" y="438" textLength="52.5" lengthAdjust="spacingAndGlyphs" class="w">7 May 20:00</text>
<text x="578.3" y="438" textLength="57.3" lengthAdjust="spacingAndGlyphs" class="w">11 May 00:00</text>
<text x="642.3" y="438" textLength="57.3" lengthAdjust="spacingAndGlyphs" class="w">12 May 08:00</text>
<text x="706.3" y="438" textLength="57.2" lengthAdjust="spacingAndGlyphs" class="w">13 May 16:00</text>
<text x="770.3" y="438" textLength="57.3" lengthAdjust="spacingAndGlyphs" class="w">16 May 22:00</text>
<text x="834.3" y="438" textLength="57.5" lengthAdjust="spacingAndGlyphs" class="w">18 May 04:00</text>
<text x="898.3" y="438" textLength="57.3" lengthAdjust="spacingAndGlyphs" class="w">19 May 12:00</text>
<text x="962.3" y="438" textLength="57.3" lengthAdjust="spacingAndGlyphs" class="w">20 May 20:00</text>
<text x="1026.3" y="438" textLength="57.2" lengthAdjust="spacingAndGlyphs" class="w">24 May 00:00</text>
</svg></body></html>
